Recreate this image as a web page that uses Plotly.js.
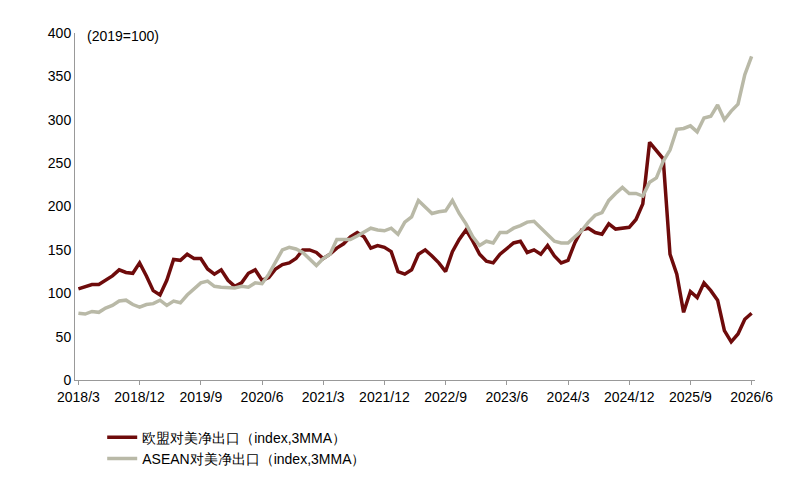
<!DOCTYPE html>
<html>
<head>
<meta charset="utf-8">
<script src="https://cdn.plot.ly/plotly-3.0.1.min.js"></script>
<style>body{margin:0;background:#fff}#chart{width:786px;height:487px}</style>
</head>
<body>
<div id="chart"></div>
<script>
// monthly labels 2018/3 .. 2026/6
const months = [];
for (let y = 2018, m = 3; y < 2026 || (y === 2026 && m <= 6); m++) {
    if (m > 12) { m = 1; y++; }
    months.push(`${y}/${m}`);
}
const tickLabels = ["2018/3", "2018/12", "2019/9", "2020/6", "2021/3", "2021/12", "2022/9", "2023/6", "2024/3", "2024/12", "2025/9", "2026/6"];

const euNet = [105, 107, 110, 110, 115, 120, 127, 124, 123, 135, 120, 103, 98, 115, 139, 138, 145, 140,
    140, 128, 122, 127, 115, 108, 112, 123, 127, 115, 118, 128, 133, 135, 140, 150, 150, 147,
    140, 145, 152, 157, 165, 170, 165, 152, 155, 153, 148, 125, 122, 127, 145, 150, 143, 135,
    125, 148, 162, 173, 160, 145, 137, 135, 145, 152, 158, 160, 147, 150, 145, 155, 143, 135,
    138, 158, 173, 175, 170, 168, 180, 174, 175, 176, 185, 203, 274, 265, 255, 145, 122, 78,
    102, 95, 112, 103, 92, 57, 44, 53, 70, 77];
const aseanNet = [77, 76, 79, 78, 83, 86, 91, 92, 87, 84, 87, 88, 92, 86, 91, 89, 98, 105,
    112, 114, 108, 107, 107, 106, 108, 107, 112, 111, 122, 137, 150, 153, 151, 147, 140, 132,
    140, 145, 162, 162, 162, 166, 170, 175, 173, 172, 175, 168, 182, 188, 207, 200, 192, 194,
    195, 207, 192, 180, 165, 155, 160, 158, 170, 170, 175, 178, 182, 183, 175, 167, 160, 158,
    158, 165, 172, 182, 190, 193, 207, 215, 222, 215, 215, 212, 228, 233, 252, 265, 289, 290,
    293, 286, 302, 304, 317, 300, 310, 318, 352, 373];

const data = [
    {
        x: months, y: euNet, type: "scatter", mode: "lines",
        name: "欧盟对美净出口（index,3MMA）",
        line: { color: "#6e0b0b", width: 3.5 },
    },
    {
        x: months, y: aseanNet, type: "scatter", mode: "lines",
        name: "ASEAN对美净出口（index,3MMA）",
        line: { color: "#b9b9a7", width: 3.5 },
    },
];

const layout = {
    width: 786, height: 487,
    margin: { l: 75, r: 31, t: 33, b: 86 },
    font: { family: "Liberation Sans, Arial, sans-serif", size: 14, color: "#000" },
    showlegend: true,
    legend: {
        orientation: "h", x: 0.04, xanchor: "left", y: -0.12, yanchor: "top",
        entrywidth: 300, font: { size: 14 },
    },
    xaxis: {
        type: "category", tickvals: tickLabels, ticktext: tickLabels,
        showline: true, linecolor: "#999", ticks: "outside", tickcolor: "#999", ticklen: 4,
        showgrid: false, range: [-0.5, 99.5], tickangle: 0,
    },
    yaxis: {
        range: [0, 400], dtick: 50, showline: true, linecolor: "#999",
        showgrid: false, zeroline: false, ticks: "",
    },
    annotations: [{
        text: "(2019=100)", xref: "paper", yref: "paper", x: 0.015, y: 0.99,
        xanchor: "left", yanchor: "middle", showarrow: false, font: { size: 14 },
    }],
};

Plotly.newPlot(document.getElementById("chart"), data, layout, { staticPlot: true });
</script>
</body>
</html>
